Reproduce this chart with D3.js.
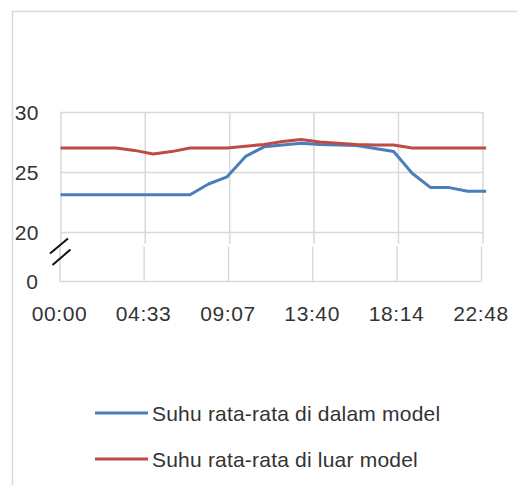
<!DOCTYPE html>
<html>
<head>
<meta charset="utf-8">
<script src="https://d3js.org/d3.v7.min.js"></script>
<style>
  body { margin: 0; background: #fff; }
  text { font-family: "Liberation Sans", Arial, sans-serif; fill: #333; }
</style>
</head>
<body>
<div id="chart"></div>
<script>
// hourly readings, 00:00 .. 23:00
var hours = [0,1,2,3,4,5,6,7,8,9,10,11,12,13,14,15,16,17,18,19,20,21,22,23];
var inside = [23.1,23.1,23.1,23.1,23.1,23.1,23.1,23.1,24.0,24.6,26.3,27.1,27.25,27.4,27.3,27.25,27.2,26.95,26.7,24.9,23.7,23.7,23.4,23.4];
var outside = [27.0,27.0,27.0,27.0,26.8,26.5,26.7,27.0,27.0,27.0,27.15,27.3,27.55,27.7,27.5,27.4,27.3,27.25,27.25,27.0,27.0,27.0,27.0,27.0];
var seriesNames = ["Suhu rata-rata di dalam model", "Suhu rata-rata di luar model"];
var xTickLabels = ["00:00","04:33","09:07","13:40","18:14","22:48"];
var yTicksTop = [20, 25, 30];
var yTicksBottom = [0];

var colors = ["#4a7ebb", "#be4b48"];
var svgWidth = 517, svgHeight = 485;

var svg = d3.select("#chart")
  .append("svg")
  .attr("width", svgWidth)
  .attr("height", svgHeight);

// chart border
svg.append("path")
  .attr("d", "M12.5,485 V11.5 H517")
  .attr("fill", "none")
  .attr("stroke", "#d9d9d9")
  .attr("stroke-width", 1.5);

function toHours(s) {
  var p = s.split(":");
  return +p[0] + (+p[1]) / 60;
}
var xTickVals = xTickLabels.map(toHours);

var x = d3.scaleLinear().domain([0, toHours("22:48")]).range([60.5, 482.5]);
var xBot = d3.scaleLinear().domain(x.domain()).range([59.5, 481]);
var yTop = d3.scaleLinear().domain([20, 30]).range([232, 112]);
var yBot = d3.scaleLinear().domain([0, 1]).range([281, 246]);

var grid = "#d9d9d9";

// top panel gridlines
svg.append("g")
  .attr("transform", "translate(0,112)")
  .call(d3.axisBottom(x).tickValues(xTickVals).tickSize(132).tickFormat(""))
  .call(g => g.select(".domain").remove())
  .call(g => g.selectAll("line").attr("stroke", grid).attr("stroke-width", 1.5));

svg.append("g")
  .attr("transform", "translate(60.5,0)")
  .call(d3.axisRight(yTop).tickValues(yTicksTop).tickSize(422).tickFormat(""))
  .call(g => g.select(".domain").remove())
  .call(g => g.selectAll("line").attr("stroke", grid).attr("stroke-width", 1.5));

// bottom panel gridlines
svg.append("g")
  .attr("transform", "translate(0,246.5)")
  .call(d3.axisBottom(xBot).tickValues(xTickVals).tickSize(34.5).tickFormat(""))
  .call(g => g.select(".domain").remove())
  .call(g => g.selectAll("line").attr("stroke", grid).attr("stroke-width", 1.5));

svg.append("g")
  .attr("transform", "translate(59.5,0)")
  .call(d3.axisRight(yBot).tickValues(yTicksBottom).tickSize(421.5).tickFormat(""))
  .call(g => g.select(".domain").remove())
  .call(g => g.selectAll("line").attr("stroke", grid).attr("stroke-width", 1.5));

// y labels
svg.selectAll(".ylabTop")
  .data(yTicksTop)
  .enter().append("text")
  .attr("x", 39)
  .attr("y", d => yTop(d) + 7.5)
  .attr("text-anchor", "end")
  .style("font-size", "21px")
  .style("letter-spacing", "0.5px")
  .text(d => d);

svg.selectAll(".ylabBot")
  .data(yTicksBottom)
  .enter().append("text")
  .attr("x", 38)
  .attr("y", d => yBot(d) + 7.5)
  .attr("text-anchor", "end")
  .style("font-size", "21px")
  .text(d => d);

// x labels
svg.selectAll(".xlab")
  .data(xTickLabels)
  .enter().append("text")
  .attr("x", d => xBot(toHours(d)))
  .attr("y", 321)
  .attr("text-anchor", "middle")
  .style("font-size", "21px")
  .style("letter-spacing", "0.6px")
  .text(d => d);

// axis break marks
svg.append("path")
  .attr("d", "M50,253.5 L68,238.5 M52.5,265 L70.5,249.5")
  .attr("stroke", "#111")
  .attr("stroke-width", 2);

var line = d3.line()
  .x((d, i) => x(hours[i]))
  .y(d => yTop(d));

[inside, outside].forEach(function(vals, k) {
  svg.append("path")
    .datum(vals)
    .attr("fill", "none")
    .attr("stroke", colors[k])
    .attr("stroke-width", 3)
    .attr("stroke-linejoin", "round")
    .attr("d", line);
});

// legend
var legend = svg.selectAll(".legend")
  .data(seriesNames)
  .enter().append("g")
  .attr("transform", (d, i) => `translate(95, ${413 + i * 46})`);

legend.append("line")
  .attr("x1", 0).attr("x2", 53)
  .attr("stroke", (d, i) => colors[i])
  .attr("stroke-width", 3);

legend.append("text")
  .attr("x", 57)
  .attr("y", 7.5)
  .style("font-size", "21px")
  .style("letter-spacing", "0.2px")
  .text(d => d);
</script>
</body>
</html>
